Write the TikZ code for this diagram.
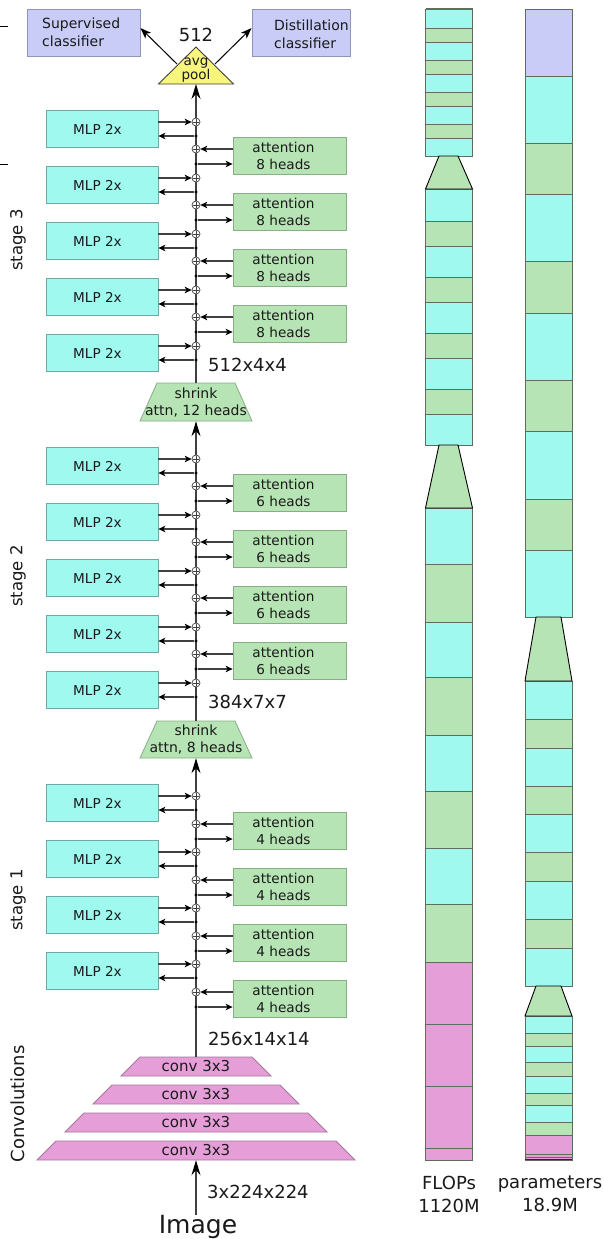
\documentclass[tikz,border=0pt]{standalone}
\usepackage{fontspec}
\setmainfont{DejaVu Sans}
\usetikzlibrary{arrows.meta,calc}
\definecolor{mlpc}{HTML}{A0F9EF}
\definecolor{mlpb}{HTML}{6FA9A3}
\definecolor{attc}{HTML}{B6E4B4}
\definecolor{attb}{HTML}{88AE86}
\definecolor{clsc}{HTML}{C8CCF6}
\definecolor{clsb}{HTML}{8F94B8}
\definecolor{poolc}{HTML}{F7F57C}
\definecolor{convc}{HTML}{E59ED8}
\definecolor{convb}{HTML}{A4789C}
\definecolor{linec}{HTML}{404040}
\definecolor{barb}{HTML}{5E6E5E}
\definecolor{txtc}{HTML}{1A1A1A}
\newcommand{\szBox}{\fontsize{13.6pt}{17pt}\selectfont}
\newcommand{\szPool}{\fontsize{13.5pt}{12pt}\selectfont}
\newcommand{\szConv}{\fontsize{15pt}{17pt}\selectfont}
\newcommand{\szDim}{\fontsize{18pt}{23pt}\selectfont}
\newcommand{\szStage}{\fontsize{16.5pt}{18pt}\selectfont}
\newcommand{\szImg}{\fontsize{25pt}{28pt}\selectfont}
\tikzset{
  mlpbox/.style={draw=mlpb, fill=mlpc, line width=0.8pt, minimum width=112pt, minimum height=37pt, inner sep=0pt},
  attbox/.style={draw=attb, fill=attc, line width=0.8pt, minimum width=113pt, minimum height=37pt, inner sep=0pt},
  clsbox/.style={draw=clsb, fill=clsc, line width=0.8pt, minimum width=113pt, minimum height=47pt, inner sep=0pt},
  boxtext/.style={font=\szBox, text=txtc, inner sep=0pt, align=center},
  plus/.style={circle, draw=linec, fill=white, line width=0.7pt, minimum size=8pt, inner sep=0pt,
    path picture={\draw[linec, line width=0.5pt] ([xshift=-2.6pt]path picture bounding box.center) -- ([xshift=2.6pt]path picture bounding box.center)
      ([yshift=-2.6pt]path picture bounding box.center) -- ([yshift=2.6pt]path picture bounding box.center);}},
  dot/.style={circle, fill=black, minimum size=3.4pt, inner sep=0pt},
  mainline/.style={draw=linec, line width=1.3pt},
  bigtip/.style={-{Stealth[length=15pt, width=9pt, inset=5pt, color=black]}},
  sarrow/.style={draw=linec, line width=1.1pt, -{Stealth[length=7pt, width=6.5pt, inset=2pt, color=black]}},
  carrow/.style={draw=black, line width=1pt, -{Stealth[length=11pt, width=8pt, inset=3pt]}},
  barseg/.style={draw=barb, line width=0.8pt},
  bartrap/.style={draw=black, fill=attc, line width=0.9pt},
  convtrap/.style={draw=convb, fill=convc, line width=0.8pt},
  shrtrap/.style={draw=attb, fill=attc, line width=0.8pt}
}
\begin{document}
\begin{tikzpicture}[x=1pt,y=-1pt]
\useasboundingbox (0,0) rectangle (604,1239);
\fill[white] (0,0) rectangle (604,1239);

% left ticks
\draw[black, line width=0.9pt] (0,26) -- (8,26);
\draw[black, line width=0.9pt] (0,164) -- (8,164);

% classifiers
\node[clsbox] (sup) at (83.5,32.5) {};
\node[boxtext, align=left, anchor=west, font=\fontsize{14pt}{17.7pt}\selectfont] (supt) at (42,32.5) {Supervised\\classifier};
\node[clsbox, minimum width=98pt] (dis) at (301,32.5) {};
\node[boxtext, align=left, anchor=west, font=\fontsize{14pt}{17.7pt}\selectfont] (dist) at (274,34.5) {Distillation\\classifier};

% avg pool triangle
\filldraw[draw=linec, fill=poolc, line width=0.9pt] (196,47) -- (233.5,84) -- (158.5,84) -- cycle;
\node[font=\szPool, text=txtc, align=center, inner sep=0pt] (pool) at (196,70) {avg\\pool};
\coordinate (poolbase) at (196,84);
\coordinate (poolL) at (177,64);
\coordinate (poolR) at (215,64);
\node[font=\szDim, text=txtc, inner sep=0pt] (d512) at (196,35) {512};
\draw[carrow] (poolL) -- ([yshift=4.5pt]sup.east);
\draw[carrow] (poolR) -- ([yshift=4.5pt]dis.west);

% shrink attention blocks
\filldraw[shrtrap] (157,383) -- (235,383) -- (252,421) -- (140,421) -- cycle;
\node[boxtext, font=\fontsize{14pt}{17pt}\selectfont, minimum width=112pt, minimum height=38pt] (shr2) at (196,402) {shrink\\attn, 12 heads};
\filldraw[shrtrap] (157,721) -- (235,721) -- (252,758) -- (140,758) -- cycle;
\node[boxtext, font=\fontsize{14pt}{17pt}\selectfont, minimum width=112pt, minimum height=37pt] (shr1) at (196,739.5) {shrink\\attn, 8 heads};

% convolutions
\filldraw[convtrap] (140,1057) -- (252,1057) -- (271,1076) -- (121,1076) -- cycle;
\node[boxtext, font=\szConv, minimum width=112pt, minimum height=19pt] (cv1) at (196,1066.5) {conv 3x3};
\filldraw[convtrap] (112,1085) -- (280,1085) -- (299,1104) -- (93,1104) -- cycle;
\node[boxtext, font=\szConv, minimum width=112pt, minimum height=19pt] (cv2) at (196,1094.5) {conv 3x3};
\filldraw[convtrap] (84,1113) -- (308,1113) -- (327,1132) -- (65,1132) -- cycle;
\node[boxtext, font=\szConv, minimum width=112pt, minimum height=19pt] (cv3) at (196,1122.5) {conv 3x3};
\filldraw[convtrap] (56,1141) -- (336,1141) -- (355,1160) -- (37,1160) -- cycle;
\node[boxtext, font=\szConv, minimum width=112pt, minimum height=19pt] (cv4) at (196,1150.5) {conv 3x3};

\node[font=\szImg, text=txtc, inner sep=0pt] (img) at (198,1227) {Image};

% main trunk
\draw[mainline, bigtip] (cv4.south |- img.north) -- (cv4.south);
\draw[mainline, bigtip] (cv1.north) -- (shr1.south);
\draw[mainline, bigtip] (shr1.north) -- (shr2.south);
\draw[mainline, bigtip] (shr2.north) -- (poolbase);

% dimension labels
\node[font=\szDim, text=txtc, anchor=west, inner sep=0pt] (l512) at (208,365) {512x4x4};
\node[font=\szDim, text=txtc, anchor=west, inner sep=0pt] (l384) at (208,702) {384x7x7};
\node[font=\szDim, text=txtc, anchor=west, inner sep=0pt] (l256) at (208,1039) {256x14x14};
\node[font=\szDim, text=txtc, anchor=west, inner sep=0pt] (l3) at (207,1192) {3x224x224};

% stage labels
\node[font=\szStage, text=txtc, rotate=90, inner sep=0pt] (st3) at (18,240) {stage 3};
\node[font=\szStage, text=txtc, rotate=90, inner sep=0pt] (st2) at (18,576) {stage 2};
\node[font=\szStage, text=txtc, rotate=90, inner sep=0pt] (st1) at (18,900) {stage 1};
\node[font=\fontsize{18pt}{20pt}\selectfont, text=txtc, rotate=90, inner sep=0pt] (stc) at (18,1104) {Convolutions};

% stages
\foreach \s/\mtop/\nm/\atop/\na/\h in {3/128.5/4/155.5/3/8, 2/465.5/4/492.5/3/6, 1/802.5/3/830.5/3/4} {
  \foreach \i in {0,...,\nm} {
    \pgfmathsetmacro\cy{\mtop+56*\i}
    \node[mlpbox] (m\s\i) at (102,\cy) {};
    \node[boxtext] (mt\s\i) at (97.5,\cy+0.5) {MLP 2x};
    \node[plus] (pm\s\i) at (196,\cy-6.5) {};
    \node[dot] (dm\s\i) at (196,\cy+7.5) {};
    \draw[sarrow] (m\s\i.east |- pm\s\i) -- (pm\s\i);
    \draw[sarrow] (dm\s\i) -- (m\s\i.east |- dm\s\i);
  }
  \foreach \j in {0,...,\na} {
    \pgfmathsetmacro\cy{\atop+56*\j}
    \node[attbox] (a\s\j) at (289.5,\cy) {};
    \node[boxtext] (at\s\j) at (283.5,\cy+0.5) {attention\\\h\ heads};
    \node[plus] (pa\s\j) at (196,\cy-6.5) {};
    \node[dot] (da\s\j) at (196,\cy+8.5) {};
    \draw[sarrow] (a\s\j.west |- pa\s\j) -- (pa\s\j);
    \draw[sarrow] (da\s\j) -- (a\s\j.west |- da\s\j);
  }
}

% FLOPs bar
\foreach \a/\b/\col in {9/28/mlpc,28/42/attc,42/60/mlpc,60/74/attc,74/92/mlpc,92/106/attc,106/124/mlpc,124/138/attc,138/156/mlpc,
  189/221/mlpc,221/246/attc,246/277/mlpc,277/302/attc,302/333/mlpc,333/358/attc,358/389/mlpc,389/414/attc,414/445/mlpc,
  508/564/mlpc,564/622/attc,622/677/mlpc,677/735/attc,735/791/mlpc,791/848/attc,848/904/mlpc,904/962/attc,
  962/1024/convc,1024/1086/convc,1086/1148/convc,1148/1160/convc}
  {\filldraw[barseg, fill=\col] (425.5,\a) rectangle (472.5,\b);}
\draw[barb, line width=1.6pt] (425.5,9) -- (472.5,9);
\filldraw[bartrap] (439,156) -- (458,156) -- (472.5,189) -- (425.5,189) -- cycle;
\filldraw[bartrap] (439,445) -- (458,445) -- (472.5,508) -- (425.5,508) -- cycle;

% parameters bar
\foreach \a/\b/\col in {9/76/clsc,76/143/mlpc,143/194/attc,194/261/mlpc,261/313/attc,313/380/mlpc,380/431/attc,431/499/mlpc,499/550/attc,550/617/mlpc,
  681/719/mlpc,719/748/attc,748/786/mlpc,786/814/attc,814/852/mlpc,852/881/attc,881/919/mlpc,919/948/attc,948/986/mlpc,
  1016/1033/mlpc,1033/1046/attc,1046/1062/mlpc,1062/1076/attc,1076/1093/mlpc,1093/1105/attc,1105/1122/mlpc,1122/1135/attc,
  1135/1154/convc,1154/1157/convc,1157/1159/convc}
  {\filldraw[barseg, fill=\col] (525,\a) rectangle (572,\b);}
\filldraw[draw=barb, fill=convc, line width=0.8pt] (525,1159) rectangle (572,1160.5);
\draw[red!50!black, line width=0.8pt] (525,1159) -- (572,1159);
\filldraw[bartrap] (536,617) -- (561,617) -- (572,681) -- (525,681) -- cycle;
\filldraw[bartrap] (536,986) -- (561,986) -- (572,1016) -- (525,1016) -- cycle;

% bar labels
\node[font=\szDim, text=txtc, align=center, inner sep=0pt] (flops) at (449,1194) {FLOPs\\1120M};
\node[font=\szDim, text=txtc, align=center, inner sep=0pt] (params) at (550,1194) {parameters\\18.9M};
\end{tikzpicture}
\end{document}
